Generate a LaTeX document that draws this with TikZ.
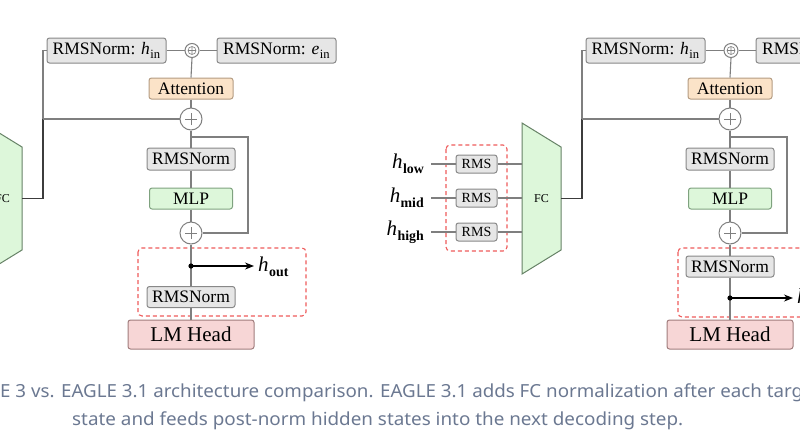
\documentclass[tikz,border=0pt]{standalone}
\usepackage{fontspec}
\setmainfont{Liberation Serif}
\newfontfamily\capfont{Noto Sans}
\usepackage{graphicx}
\usetikzlibrary{arrows.meta}

\definecolor{linegray}{HTML}{7F7F7F}
\definecolor{darkline}{HTML}{3C3C3C}
\definecolor{boxgray}{HTML}{E6E6E6}
\definecolor{boxedge}{HTML}{888888}
\definecolor{attfill}{HTML}{FBE3C8}
\definecolor{attedge}{HTML}{B49C82}
\definecolor{mlpfill}{HTML}{DDF7DA}
\definecolor{mlpedge}{HTML}{7FA27F}
\definecolor{lmfill}{HTML}{F7D6D6}
\definecolor{lmedge}{HTML}{A07C7C}
\definecolor{reddash}{HTML}{EE5A5A}
\definecolor{capcol}{HTML}{6B7891}

\newcommand\mysub[2]{\textit{#1}\kern0.03em\raisebox{-0.24em}{\scalebox{0.72}{#2}}}
\newcommand\bigsub[2]{\textit{#1}\kern0.02em\raisebox{-0.26em}{\scalebox{0.66}{#2}}}

\tikzset{
  conn/.style={draw=linegray, line width=1.1pt},
  fcconn/.style={draw=darkline, line width=1.1pt},
  basebox/.style={rounded corners=2.5pt, line width=1pt, inner sep=0pt, text=black},
  graybox/.style={basebox, draw=boxedge, fill=boxgray, font=\fontsize{17.5}{20}\selectfont},
  smallgray/.style={basebox, draw=boxedge, fill=boxgray, font=\fontsize{14}{16}\selectfont, minimum width=41pt, minimum height=18pt},
  attbox/.style={basebox, draw=attedge, fill=attfill, font=\fontsize{17.5}{20}\selectfont, minimum width=84pt, minimum height=21pt},
  mlpbox/.style={basebox, draw=mlpedge, fill=mlpfill, font=\fontsize{17.5}{20}\selectfont, minimum width=83pt, minimum height=21pt},
  lmbox/.style={basebox, draw=lmedge, fill=lmfill, font=\fontsize{21}{24}\selectfont, minimum width=126pt, minimum height=29pt},
  plusc/.style={circle, draw=linegray, fill=white, line width=1pt, minimum size=22pt, inner sep=0pt,
    path picture={\draw[linegray, line width=0.9pt] ([xshift=-6pt]path picture bounding box.center) -- ([xshift=6pt]path picture bounding box.center)
      ([yshift=-6pt]path picture bounding box.center) -- ([yshift=6pt]path picture bounding box.center);}},
  smallplus/.style={circle, draw=linegray, fill=white, line width=1pt, minimum size=14pt, inner sep=0pt,
    path picture={\draw[linegray, line width=0.6pt] (path picture bounding box.center) circle (4pt)
      ([xshift=-4pt]path picture bounding box.center) -- ([xshift=4pt]path picture bounding box.center)
      ([yshift=-4pt]path picture bounding box.center) -- ([yshift=4pt]path picture bounding box.center);}},
  dashbox/.style={draw=reddash, line width=1.1pt, dash pattern=on 4pt off 3pt, rounded corners=4pt},
  fcshape/.style={draw=mlpedge!80!black, fill=mlpfill, line width=1pt},
  outarrow/.style={draw=black, line width=1.2pt, -{Stealth[length=9pt,width=7pt]}},
  hlabel/.style={font=\fontsize{21}{24}\selectfont, inner sep=0pt, text=black},
}

\newcommand\eaglecore{%
  \node[graybox, minimum width=119pt, minimum height=25pt] (hin) at (645.5,50.5) {RMSNorm: \mysub{h}{in}};
  \node[smallplus] (op) at (731,50.5) {};
  \node[graybox, minimum width=119pt, minimum height=25pt] (ein) at (815.5,50.5) {RMSNorm: \mysub{e}{in}};
  \node[attbox] (att) at (730,88.5) {Attention};
  \node[plusc] (p1) at (730,119) {};
  \node[graybox, minimum width=88pt, minimum height=22pt] (rn1) at (730,159) {RMSNorm};
  \node[mlpbox] (mlp) at (730,198.5) {MLP};
  \node[plusc] (p2) at (730,233) {};
  \node[lmbox] (lm) at (730,334.5) {LM Head};
  \draw[fcshape] (522,123) -- (561,147) -- (561,250) -- (522,274) -- cycle;
  \node[font=\fontsize{12}{14}\selectfont, inner sep=0pt] (fc) at (541.5,198.5) {FC};
  \coordinate (fcout) at (561,198.5);
  \coordinate (jn) at (582,198.5);
  \coordinate (jmid) at (582,119);
  \coordinate (jtop) at (582,50.5);
  \coordinate (sk1) at (730,137);
  \coordinate (sk2) at (787,137);
  \coordinate (sk3) at (787,233);
  \draw[fcconn] (fcout) -- (jn) -- (jmid);
  \draw[conn] (jmid) -- (jtop) -- (hin.west);
  \draw[conn] (jmid) -- (p1.west);
  \draw[conn] (hin.east) -- (op.west);
  \draw[conn] (op.east) -- (ein.west);
  \draw[conn] (op.south) -- (att.north);
  \draw[conn] (att.south) -- (p1.north);
  \draw[conn] (p1.south) -- (rn1.north);
  \draw[conn] (rn1.south) -- (mlp.north);
  \draw[conn] (mlp.south) -- (p2.north);
  \draw[conn] (sk1) -- (sk2) -- (sk3) -- (p2.east);
}

\begin{document}
\begin{tikzpicture}[x=1pt, y=-1pt]
  \useasboundingbox (0,0) rectangle (800,445);
  \clip (0,0) rectangle (800,445);

  % ---------- left panel: EAGLE 3 ----------
  \begin{scope}[xshift=-539pt, name prefix=L-]
    \eaglecore
    \draw[dashbox] (677,248) rectangle (845,316);
    \coordinate (dot) at (730,266);
    \coordinate (arrend) at (793,266);
    \node[graybox, minimum width=88pt, minimum height=21pt] (rn2) at (730,297) {RMSNorm};
    \node[hlabel, anchor=west] (hout) at (797,267) {\bigsub{h}{\bfseries out}};
    \draw[conn] (p2.south) -- (dot) -- (rn2.north);
    \draw[conn] (rn2.south) -- (lm.north);
    \draw[outarrow] (dot) -- (arrend);
    \fill (dot) circle (2.6pt);
  \end{scope}

  % ---------- right panel: EAGLE 3.1 ----------
  \begin{scope}[name prefix=R-]
    \eaglecore
    \draw[dashbox] (678,248) rectangle (846,317);
    \node[graybox, minimum width=88pt, minimum height=21pt] (rn2) at (730,266.5) {RMSNorm};
    \coordinate (dot) at (730,298);
    \coordinate (arrend) at (793,298);
    \node[hlabel, anchor=west] (hout) at (797,299) {\bigsub{h}{\bfseries out}};
    \draw[conn] (p2.south) -- (rn2.north);
    \draw[conn] (rn2.south) -- (dot) -- (lm.north);
    \draw[outarrow] (dot) -- (arrend);
    \fill (dot) circle (2.6pt);

    % inputs with per-input RMS norm
    \draw[dashbox] (446,145) rectangle (507,251);
    \node[hlabel, anchor=east] (hlow) at (424,164) {\bigsub{h}{\bfseries low}};
    \node[hlabel, anchor=east] (hmid) at (424,198) {\bigsub{h}{\bfseries mid}};
    \node[hlabel, anchor=east] (hhigh) at (424,232) {\bigsub{h}{\bfseries high}};
    \node[smallgray] (rlow) at (476.5,164) {RMS};
    \node[smallgray] (rmid) at (476.5,198) {RMS};
    \node[smallgray] (rhigh) at (476.5,232) {RMS};
    \coordinate (flow) at (522,164);
    \coordinate (fmid) at (522,198);
    \coordinate (fhigh) at (522,232);
    \coordinate (slow) at (431,164);
    \coordinate (smid) at (431,198);
    \coordinate (shigh) at (431,232);
    \draw[conn] (slow) -- (rlow.west);
    \draw[conn] (smid) -- (rmid.west);
    \draw[conn] (shigh) -- (rhigh.west);
    \draw[conn] (rlow.east) -- (flow);
    \draw[conn] (rmid.east) -- (fmid);
    \draw[conn] (rhigh.east) -- (fhigh);
  \end{scope}

  % ---------- caption ----------
  \node[anchor=base west, inner sep=0pt, text=capcol, font=\capfont\fontsize{18}{18}\selectfont] (cap1) at (0,397)
    {\resizebox{803pt}{\height}{E 3 vs. EAGLE 3.1 architecture comparison. EAGLE 3.1 adds FC normalization after each targ}};
  \node[anchor=base west, inner sep=0pt, text=capcol, font=\capfont\fontsize{18}{18}\selectfont] (cap2) at (72,425)
    {\resizebox{611pt}{\height}{state and feeds post-norm hidden states into the next decoding step.}};
\end{tikzpicture}
\end{document}
